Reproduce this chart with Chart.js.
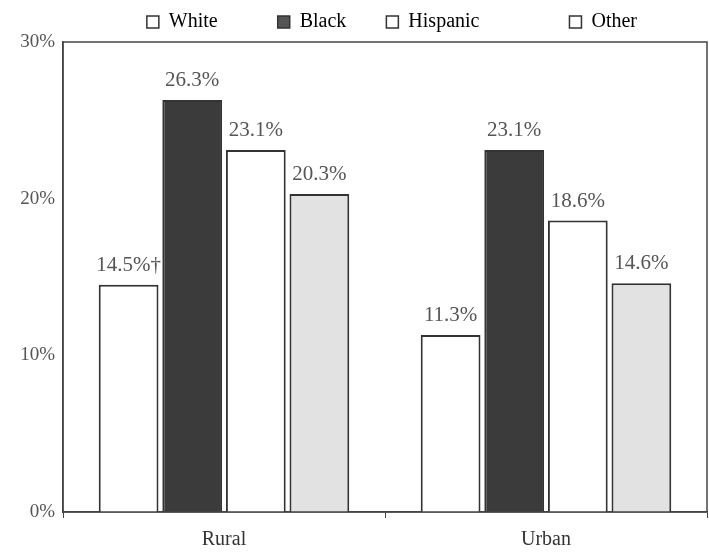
<!DOCTYPE html>
<html lang="en">
<head>
  <meta charset="UTF-8">
  <title>Rural / Urban by race</title>
  <style>
    html, body { margin: 0; padding: 0; background: #fff; }
    #wrap { width: 709px; height: 559px; }
  </style>
</head>
<body>
  <div id="wrap"><canvas id="myChart" width="709" height="559"></canvas></div>
  <script src="https://cdn.jsdelivr.net/npm/chart.js"></script>
  <script>
    const categories = ['Rural', 'Urban'];
    const seriesNames = ['White', 'Black', 'Hispanic', 'Other'];
    const white = [14.5, 11.3];
    const black = [26.3, 23.1];
    const hispanic = [23.1, 18.6];
    const other = [20.3, 14.6];
    const notes = [['†', ''], ['', ''], ['', ''], ['', '']];
    const yTicks = [0, 10, 20, 30];

    const fills = ['#ffffff', '#3b3b3b', '#ffffff', '#e2e2e2'];
    const serif = '"Liberation Serif", "DejaVu Serif", serif';
    // trailing blanks to space legend entries like the original
    const legendGaps = [10, 6, 16, 12];

    // frame around the plot + value labels above bars
    const framePlugin = {
      id: 'frame',
      afterDraw(chart) {
        const c = chart.ctx, a = chart.chartArea;
        c.save();
        c.strokeStyle = '#444';
        c.lineWidth = 1.5;
        c.strokeRect(a.left, a.top, a.right - a.left, a.bottom - a.top);
        c.font = '21px ' + serif;
        c.fillStyle = '#555';
        c.textAlign = 'center';
        c.textBaseline = 'alphabetic';
        chart.data.datasets.forEach((ds, i) => {
          chart.getDatasetMeta(i).data.forEach((bar, j) => {
            c.fillText(ds.data[j].toFixed(1) + '%' + notes[i][j], bar.x, bar.y - 14);
          });
        });
        c.restore();
      }
    };

    const ctx = document.getElementById('myChart');
    const mychart = new Chart(ctx, {
      type: 'bar',
      data: {
        labels: categories,
        datasets: [white, black, hispanic, other].map((d, i) => ({
          label: seriesNames[i],
          data: d,
          backgroundColor: fills[i],
          borderColor: '#333',
          borderWidth: 2,
          borderSkipped: 'bottom',
          categoryPercentage: 0.79,
          barPercentage: 0.94
        }))
      },
      options: {
        responsive: false,
        animation: false,
        layout: { padding: { right: 2, top: 2 } },
        plugins: {
          tooltip: { enabled: false },
          legend: {
            position: 'top',
            align: 'end',
            labels: {
              font: { family: serif, size: 20 },
              color: '#333',
              boxWidth: 12,
              boxHeight: 12,
              padding: 10,
              generateLabels(chart) {
                return chart.data.datasets.map((ds, i) => ({
                  text: ds.label + ' '.repeat(legendGaps[i]),
                  fillStyle: i === 1 ? '#555' : '#fff',
                  strokeStyle: '#333',
                  lineWidth: 1.5,
                  datasetIndex: i
                }));
              }
            }
          }
        },
        scales: {
          x: {
            grid: { display: true, drawOnChartArea: false, drawTicks: true, tickLength: 6, color: '#444' },
            border: { color: '#444', width: 1.5 },
            ticks: { font: { family: serif, size: 20 }, color: '#333', padding: 10 },
            afterFit(scale) { scale.height = 47; }
          },
          y: {
            min: 0,
            max: 30,
            afterBuildTicks(scale) { scale.ticks = yTicks.map(v => ({ value: v })); },
            grid: { display: false, drawTicks: false },
            border: { color: '#444', width: 1.5 },
            ticks: {
              font: { family: serif, size: 19 },
              color: '#555',
              padding: 8,
              callback: v => v + '%'
            },
            afterFit(scale) { scale.width = 63; }
          }
        }
      },
      plugins: [framePlugin]
    });
  </script>
</body>
</html>
